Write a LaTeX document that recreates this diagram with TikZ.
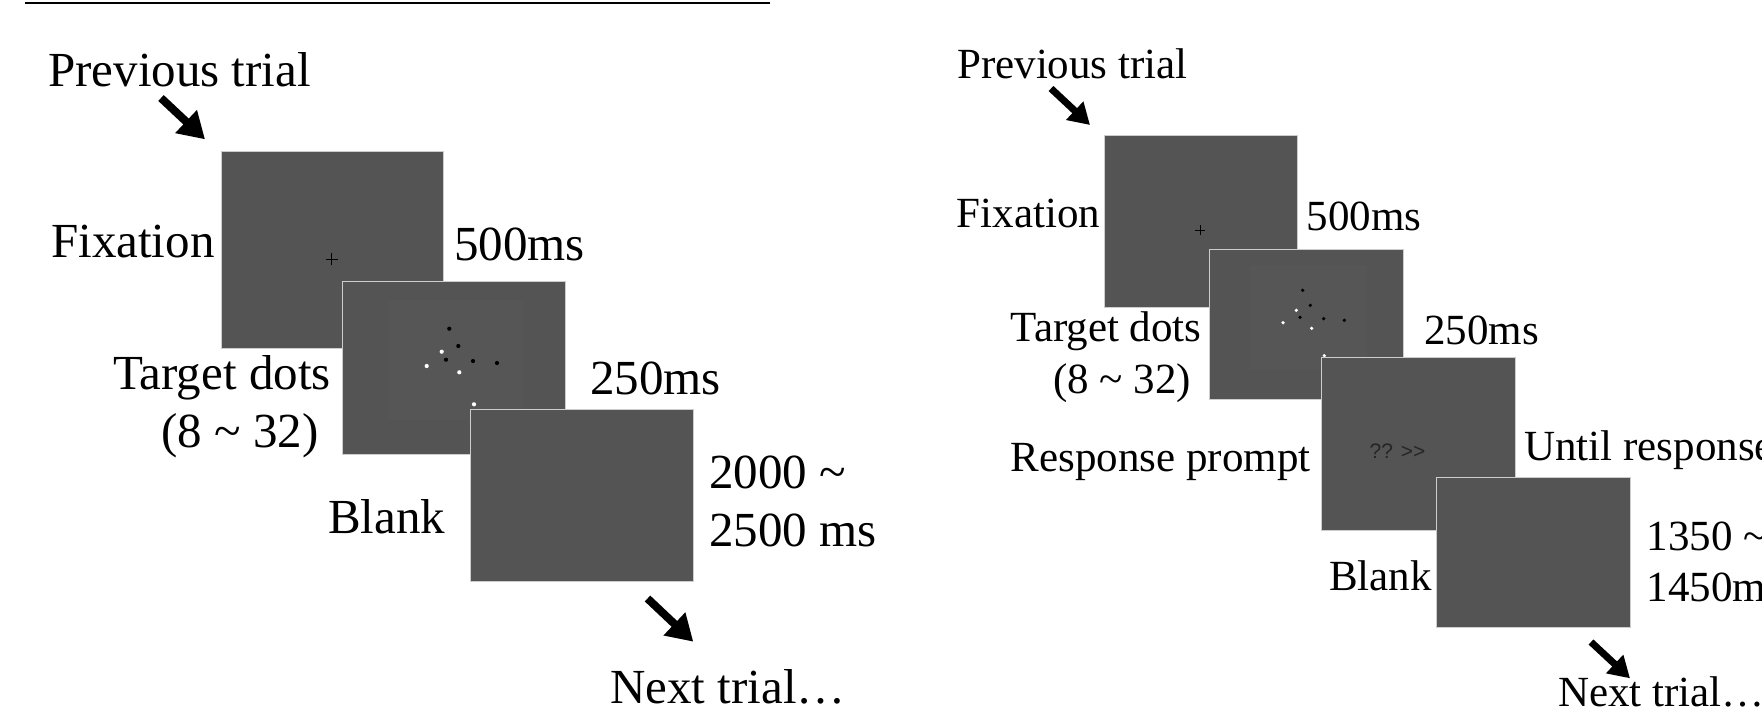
\documentclass[tikz,border=0pt]{standalone}
\usepackage{fontspec}
\setmainfont{Liberation Serif}
\newfontfamily\promptfont{Liberation Sans}
\usetikzlibrary{
		calc,
		positioning,
		arrows.meta
	}
\tikzset{
		>=stealth
	}
\definecolor{screengray}{RGB}{84,84,84}
\definecolor{noisegray}{RGB}{86,86,86}
\definecolor{screenedge}{RGB}{205,205,205}
\newcommand{\bigtxt}{\fontsize{49}{58}\selectfont}
\newcommand{\smalltxt}{\fontsize{43}{52}\selectfont}

\begin{document}
\begin{tikzpicture}[x=1pt, y=-1pt,
				screen/.style={draw=screenedge, fill=screengray, line width=1pt, inner sep=0pt, anchor=north west},
				stage/.style={inner sep=0pt, anchor=base west},
				stageL/.style={stage, font=\bigtxt},
				stageR/.style={stage, font=\smalltxt},
				flowL/.style={line width=8pt, -{Triangle[width=30pt, length=26pt]}},
				flowR/.style={line width=7pt, -{Triangle[width=24pt, length=21pt]}},
				fixcross/.style={line width=1pt, black}]
	\clip (0,0) rectangle (1762,715);
	\fill[white] (0,0) rectangle (1762,715);
	\draw[line width=2pt] (25,2.5) -- (770,2.5);

	% left: dot task
	\node[stageL] (prevL) at (48,86.7) {Previous trial};
	\coordinate (prevLa) at (161,98);
	\coordinate (prevLb) at (205,139.3);
	\draw[flowL] (prevLa) -- (prevLb);

	\node[screen, minimum width=222.6pt, minimum height=197.3pt] (fixL) at (220.7,151) {};
	\draw[fixcross] (325.7,259.3) -- (337.7,259.3) (331.7,253.3) -- (331.7,265.3);
	\node[stageL] (fixLtxt) at (51,257.7) {Fixation};
	\node[stageL] (fixLms) at (454,260) {500ms};

	\node[screen, minimum width=223.3pt, minimum height=173.3pt] (dotsL) at (341.7,280.7) {};
	\fill[noisegray] (389.3,300) rectangle (522.7,420);
	\foreach \x/\y in {449.3/328.7, 458.3/346, 446/359.7, 473/361, 497/363}
		\fill[black] (\x,\y) circle (2.1);
	\foreach \x/\y in {441.7/351.7, 426.7/366, 459.3/372.3, 474/404.3}
		\fill[white] (\x,\y) circle (2.1);
	\node[stageL] (dotsLtxt) at (113,389.3) {Target dots};
	\node[stageL] (dotsLnum) at (161,447.3) {(8 \textasciitilde{} 32)};
	\node[stageL] (dotsLms) at (590,394) {250ms};

	\node[screen, minimum width=223.3pt, minimum height=172.3pt] (blankL) at (470,408.7) {};
	\node[stageL] (blankLtxt) at (328,533.3) {Blank};
	\node[stageL] (blankLms) at (709,488.3) {2000 \textasciitilde};
	\node[stageL] (blankLms2) at (709,546.7) {2500 ms};

	\coordinate (nextLa) at (647.5,598.5);
	\coordinate (nextLb) at (693.3,641.7);
	\draw[flowL] (nextLa) -- (nextLb);
	\node[stageL] (nextL) at (610,703.3) {Next trial…};

	% right: dot task with response prompt
	\node[stageR] (prevR) at (957,78.3) {Previous trial};
	\coordinate (prevRa) at (1051,88.5);
	\coordinate (prevRb) at (1090,125);
	\draw[flowR] (prevRa) -- (prevRb);

	\node[screen, minimum width=193.3pt, minimum height=171.7pt] (fixR) at (1104,135) {};
	\draw[fixcross] (1195.3,230) -- (1205.3,230) (1200.3,225) -- (1200.3,235);
	\node[stageR] (fixRtxt) at (956.5,227.3) {Fixation};
	\node[stageR] (fixRms) at (1306.5,230) {500ms};

	\node[screen, minimum width=194pt, minimum height=150.6pt] (dotsR) at (1209.3,248.7) {};
	\fill[noisegray] (1250,265) rectangle (1366.7,370);
	\foreach \x/\y in {1302.7/290.3, 1310.3/305.3, 1300/317.3, 1323.7/318.7, 1344.3/320.3}
		\fill[black] (\x,\y) circle (1.8);
	\foreach \x/\y in {1296.3/310.3, 1283/322.7, 1311.7/328.3, 1324.3/355.7}
		\fill[white] (\x,\y) circle (1.8);
	\node[stageR] (dotsRtxt) at (1010.5,341.7) {Target dots};
	\node[stageR] (dotsRnum) at (1053,393.3) {(8 \textasciitilde{} 32)};
	\node[stageR] (dotsRms) at (1424,344.3) {250ms};

	\node[screen, minimum width=194.3pt, minimum height=172.7pt] (respR) at (1320.7,357.3) {};
	\node[stage, font=\promptfont\fontsize{21}{25}\selectfont, text=black!85] (prompt) at (1369.5,458.3) {?? >>};
	\node[stageR] (respRtxt) at (1010.5,471.7) {Response prompt};
	\node[stageR] (respRms) at (1524,460) {Until response};

	\node[screen, minimum width=194.3pt, minimum height=150pt] (blankR) at (1435.7,476.7) {};
	\node[stageR] (blankRtxt) at (1329,590) {Blank};
	\node[stageR] (blankRms) at (1646.5,550) {1350 \textasciitilde};
	\node[stageR] (blankRms2) at (1646.5,601.7) {1450ms};

	\coordinate (nextRa) at (1591,642);
	\coordinate (nextRb) at (1630,678.3);
	\draw[flowR] (nextRa) -- (nextRb);
	\node[stageR] (nextR) at (1558,706.7) {Next trial…};
\end{tikzpicture}
\end{document}
